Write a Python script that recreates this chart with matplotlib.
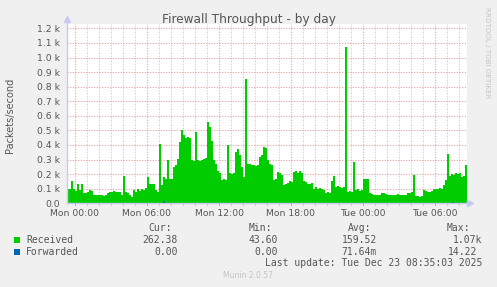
import matplotlib
matplotlib.use("Agg")
import matplotlib.pyplot as plt
import numpy as np

# Received packets/second, one value per 10 minutes, starting Sun 23:20
received = [
    100, 95, 150, 95, 85, 130, 90, 135, 70, 70, 75, 90,
    85, 60, 55, 60, 55, 55, 50, 55, 70, 80, 75, 85,
    80, 75, 80, 55, 190, 80, 70, 55, 45, 90, 75, 100,
    85, 100, 90, 105, 180, 135, 130, 135, 90, 80, 410, 125,
    180, 170, 295, 170, 165, 250, 260, 305, 420, 500, 470, 450,
    455, 445, 300, 290, 490, 300, 290, 300, 305, 310, 560, 520,
    430, 300, 270, 220, 210, 160, 170, 160, 400, 210, 200, 210,
    350, 370, 330, 250, 180, 850, 270, 270, 260, 265, 255, 260,
    320, 330, 385, 380, 295, 270, 265, 160, 170, 215, 210, 195,
    125, 130, 140, 150, 145, 215, 220, 210, 220, 210, 150, 145,
    135, 130, 140, 100, 110, 100, 105, 95, 90, 70, 75, 70,
    150, 190, 115, 120, 110, 105, 115, 1070, 80, 85, 75, 285,
    90, 95, 85, 90, 170, 165, 170, 70, 65, 55, 60, 55,
    60, 70, 70, 65, 55, 60, 55, 60, 55, 65, 55, 60,
    55, 60, 70, 70, 75, 195, 50, 50, 45, 50, 90, 85,
    80, 75, 85, 100, 95, 100, 105, 100, 125, 160, 340, 190,
    200, 195, 210, 200, 205, 180, 185, 262,
]
# Forwarded: only two small blips (hours from Mon 00:00)
forwarded_hours = [7.33, 31.42]
forwarded_vals = [14.22, 10.0]

start_hour = -2 / 3
step = 1 / 6

yticks = [0, 100, 200, 300, 400, 500, 600, 700, 800, 900, 1000, 1100, 1200]
ytick_labels = ["0.0", "0.1 k", "0.2 k", "0.3 k", "0.4 k", "0.5 k", "0.6 k",
                "0.7 k", "0.8 k", "0.9 k", "1.0 k", "1.1 k", "1.2 k"]
xticks = [0, 6, 12, 18, 24, 30]
xtick_labels = ["Mon 00:00", "Mon 06:00", "Mon 12:00", "Mon 18:00",
                "Tue 00:00", "Tue 06:00"]

series = ["Received", "Forwarded"]
colors = ["#00cc00", "#0066b3"]
cur = ["262.38", "0.00"]
mins = ["43.60", "0.00"]
avgs = ["159.52", "71.64m"]
maxs = ["1.07k", "14.22"]

W, H = 497, 287
def fx(x):
    return x / W
def fy(y):
    return 1 - y / H

fig = plt.figure(figsize=(W / 100, H / 100), dpi=100, facecolor="#f0f0f0")
ax = fig.add_axes([fx(67), fy(203.3), 400 / W, (203.3 - 24) / H])
ax.set_facecolor("white")
for s in ax.spines.values():
    s.set_visible(False)

x0 = start_hour
x1 = start_hour + step * len(received)
ax.set_xlim(x0, x1)
ax.set_ylim(0, 1230)

# grid
major_c = "#e6a0a0"
minor_c = "#c8c8c8"
dot = (0, (1, 1.4))
for h in range(0, 33):
    if h % 6 == 0:
        ax.axvline(h, color=major_c, lw=0.8, ls=dot, zorder=1)
    else:
        ax.axvline(h, color=minor_c, lw=0.8, ls=dot, zorder=1)
for v in yticks[1:]:
    ax.axhline(v, color=major_c, lw=0.8, ls=dot, zorder=1)

# data
edges = start_hour + step * np.arange(len(received) + 1)
vals = np.r_[received, received[-1]]
ax.fill_between(edges, vals, step="post", color=colors[0], lw=0, zorder=2)
ax.bar(forwarded_hours, forwarded_vals, width=step, align="edge",
       color=colors[1], lw=0, zorder=3)

# axes lines with arrows
axc = "#c8c8f4"
ax.plot([x0, x0], [0, 1262], color=axc, lw=1, clip_on=False, zorder=4)
ax.plot(x0, 1262, marker="^", ms=4, color=axc, clip_on=False, zorder=4)
ax.plot([x0, x1 + 0.25], [0, 0], color=axc, lw=1, clip_on=False, zorder=4)
ax.plot(x1 + 0.25, 0, marker=">", ms=4, color=axc, clip_on=False, zorder=4)
for h in range(0, 33):
    c = major_c if h % 6 == 0 else minor_c
    ax.plot([h, h], [0, -14], color=c, lw=0.8, clip_on=False, zorder=4)

ax.set_yticks(yticks)
ax.set_yticklabels(ytick_labels)
ax.set_xticks(xticks)
ax.set_xticklabels(xtick_labels)
ax.tick_params(length=0, labelsize=6.7, colors="#555555")
ax.tick_params(axis="y", pad=5)
ax.tick_params(axis="x", pad=4)

fig.text(fx(249), fy(19), "Firewall Throughput - by day", ha="center",
         va="center", fontsize=8.7, color="#555555")
fig.text(fx(10), fy(115), "Packets/second", rotation=90, ha="center",
         va="center", fontsize=7, color="#555555")
fig.text(fx(487), fy(53), "RRDTOOL / TOBI OETIKER", rotation=270, ha="center",
         va="center", fontsize=5.1, color="#c4c4c4")

# legend block
mono = dict(family="DejaVu Sans Mono", fontsize=7, color="#555555", va="center")
fig.text(fx(172), fy(228), "Cur:", ha="right", **mono)
fig.text(fx(272), fy(228), "Min:", ha="right", **mono)
fig.text(fx(371), fy(228), "Avg:", ha="right", **mono)
fig.text(fx(470), fy(228), "Max:", ha="right", **mono)
rows_y = [240, 252]
for i in range(2):
    y = rows_y[i]
    fig.patches.append(plt.Rectangle((fx(14), fy(y + 3)), 6 / W, 6 / H,
                                     transform=fig.transFigure,
                                     color=colors[i], lw=0))
    fig.text(fx(26), fy(y), series[i], ha="left", **mono)
    fig.text(fx(178), fy(y), cur[i], ha="right", **mono)
    fig.text(fx(278), fy(y), mins[i], ha="right", **mono)
    fig.text(fx(377), fy(y), avgs[i], ha="right", **mono)
    fig.text(fx(482) if i == 0 else fx(477), fy(y), maxs[i], ha="right", **mono)
fig.text(fx(482), fy(263), "Last update: Tue Dec 23 08:35:03 2025",
         ha="right", **mono)
fig.text(fx(248), fy(276), "Munin 2.0.57", ha="center", va="center",
         fontsize=5.5, color="#c4c4c4")

fig.savefig("out.png", dpi=100, facecolor=fig.get_facecolor())
